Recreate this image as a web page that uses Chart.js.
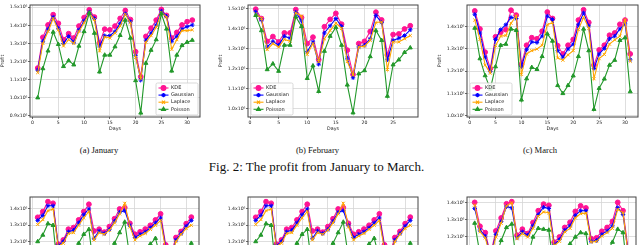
<!DOCTYPE html>
<html>
<head>
<meta charset="utf-8">
<script src="https://cdn.jsdelivr.net/npm/chart.js@4.4.1/dist/chart.umd.min.js"></script>
<style>
  html, body { margin: 0; padding: 0; background: #fff; }
  body { position: relative; width: 640px; height: 245px; overflow: hidden; }
  canvas { position: absolute; }
  .cap { position: absolute; font-family: 'Liberation Serif', 'Times New Roman', serif; color: #111;
         white-space: nowrap; transform: translate(-50%, -50%); line-height: 1; }
</style>
</head>
<body>
<canvas id="jan" width="205" height="131" style="left:0px;top:0px"></canvas>
<canvas id="feb" width="205" height="131" style="left:218px;top:0px"></canvas>
<canvas id="mar" width="206" height="131" style="left:437px;top:0px"></canvas>
<canvas id="rowA" width="204" height="140" style="left:0px;top:185px"></canvas>
<canvas id="rowB" width="205" height="140" style="left:218px;top:185px"></canvas>
<canvas id="rowC" width="204" height="140" style="left:437px;top:185px"></canvas>

<div class="cap" style="left:99px;top:150px;font-size:8.6px">(a) January</div>
<div class="cap" style="left:317.5px;top:150px;font-size:8.6px">(b) February</div>
<div class="cap" style="left:540px;top:150px;font-size:8.6px">(c) March</div>
<div class="cap" style="left:316.5px;top:166px;font-size:13px">Fig. 2: The profit from January to March.</div>

<script>
// profit values are in units of 10^6
const labels = ['KDE', 'Gaussian', 'Laplace', 'Poisson'];

const days31 = [1,2,3,4,5,6,7,8,9,10,11,12,13,14,15,16,17,18,19,20,21,22,23,24,25,26,27,28,29,30,31];
const days30 = [1,2,3,4,5,6,7,8,9,10,11,12,13,14,15,16,17,18,19,20,21,22,23,24,25,26,27,28,29,30];
const days28 = [1,2,3,4,5,6,7,8,9,10,11,12,13,14,15,16,17,18,19,20,21,22,23,24,25,26,27,28];

const janKDE = [1.164, 1.334, 1.402, 1.459, 1.411, 1.321, 1.354, 1.330, 1.396, 1.443, 1.486, 1.446, 1.304, 1.379, 1.375, 1.396,
                1.438, 1.482, 1.432, 1.254, 1.116, 1.339, 1.384, 1.429, 1.488, 1.455, 1.330, 1.361, 1.402, 1.420, 1.429];
const janGauss = [1.152, 1.312, 1.379, 1.446, 1.384, 1.300, 1.339, 1.307, 1.375, 1.425, 1.473, 1.438, 1.286, 1.343, 1.343, 1.366,
                  1.411, 1.464, 1.420, 1.232, 1.098, 1.318, 1.357, 1.402, 1.479, 1.450, 1.312, 1.339, 1.379, 1.393, 1.402];
const janLaplace = [1.139, 1.300, 1.366, 1.438, 1.375, 1.286, 1.321, 1.300, 1.366, 1.414, 1.468, 1.432, 1.259, 1.336, 1.330, 1.357,
                    1.396, 1.461, 1.414, 1.223, 1.107, 1.307, 1.343, 1.389, 1.473, 1.446, 1.268, 1.321, 1.371, 1.371, 1.375];
const janPoisson = [1.000, 1.161, 1.259, 1.363, 1.295, 1.173, 1.205, 1.182, 1.286, 1.366, 1.468, 1.357, 1.143, 1.236, 1.236, 1.282,
                    1.345, 1.429, 1.330, 1.095, 0.916, 1.191, 1.263, 1.321, 1.464, 1.380, 1.148, 1.236, 1.289, 1.307, 1.318];

const febKDE = [1.497, 1.450, 1.336, 1.360, 1.333, 1.378, 1.378, 1.495, 1.455, 1.325, 1.357, 1.244, 1.409, 1.446,
                1.476, 1.422, 1.292, 1.170, 1.325, 1.336, 1.385, 1.482, 1.443, 1.268, 1.370, 1.373, 1.398, 1.414];
const febGauss = [1.484, 1.443, 1.308, 1.336, 1.317, 1.362, 1.352, 1.482, 1.438, 1.284, 1.333, 1.222, 1.378, 1.414,
                  1.450, 1.411, 1.252, 1.154, 1.308, 1.317, 1.349, 1.466, 1.430, 1.244, 1.341, 1.352, 1.365, 1.394];
const febLaplace = [1.474, 1.451, 1.295, 1.325, 1.308, 1.346, 1.336, 1.479, 1.463, 1.271, 1.325, 1.235, 1.349, 1.390,
                    1.427, 1.401, 1.235, 1.167, 1.308, 1.312, 1.341, 1.430, 1.433, 1.195, 1.333, 1.333, 1.349, 1.365];
const febPoisson = [1.466, 1.390, 1.195, 1.224, 1.187, 1.317, 1.317, 1.459, 1.411, 1.151, 1.214, 1.086, 1.287, 1.362,
                    1.406, 1.317, 1.118, 0.979, 1.174, 1.190, 1.260, 1.390, 1.341, 1.062, 1.219, 1.244, 1.281, 1.304];

const marKDE = [1.470, 1.389, 1.285, 1.212, 1.354, 1.374, 1.386, 1.473, 1.451, 1.230, 1.316, 1.350, 1.345, 1.379, 1.465, 1.436,
                1.314, 1.277, 1.316, 1.342, 1.429, 1.475, 1.418, 1.227, 1.295, 1.316, 1.361, 1.371, 1.410, 1.429, 1.277];
const marGauss = [1.455, 1.371, 1.263, 1.198, 1.342, 1.386, 1.408, 1.441, 1.436, 1.220, 1.296, 1.331, 1.328, 1.357, 1.447, 1.432,
                  1.292, 1.263, 1.299, 1.321, 1.408, 1.461, 1.403, 1.212, 1.277, 1.302, 1.345, 1.357, 1.389, 1.412, 1.251];
const marLaplace = [1.429, 1.342, 1.227, 1.191, 1.314, 1.357, 1.360, 1.415, 1.447, 1.186, 1.277, 1.292, 1.299, 1.316, 1.408, 1.418,
                    1.259, 1.249, 1.273, 1.292, 1.386, 1.441, 1.393, 1.166, 1.256, 1.275, 1.321, 1.340, 1.357, 1.429, 1.244];
const marPoisson = [1.393, 1.256, 1.180, 1.120, 1.220, 1.316, 1.321, 1.389, 1.383, 1.071, 1.166, 1.217, 1.208, 1.266, 1.367, 1.335,
                    1.136, 1.100, 1.136, 1.179, 1.266, 1.389, 1.292, 1.029, 1.123, 1.165, 1.227, 1.249, 1.338, 1.350, 1.108];

// next figure row (only its top is visible)
const rowAKDE = [1.349, 1.384, 1.445, 1.435, 1.184, 1.210, 1.276, 1.286, 1.333, 1.384, 1.429, 1.265, 1.276, 1.258, 1.292, 1.340,
                 1.400, 1.408, 1.312, 1.245, 1.260, 1.277, 1.300, 1.333, 1.370, 1.180, 1.120, 1.225, 1.262, 1.310, 1.350];
const rowAGauss = [1.330, 1.360, 1.420, 1.420, 1.175, 1.200, 1.260, 1.270, 1.315, 1.365, 1.400, 1.220, 1.265, 1.250, 1.275, 1.325,
                   1.380, 1.390, 1.300, 1.225, 1.245, 1.260, 1.285, 1.315, 1.345, 1.165, 1.100, 1.210, 1.250, 1.295, 1.330];
const rowALaplace = [1.305, 1.335, 1.390, 1.400, 1.170, 1.190, 1.250, 1.255, 1.300, 1.345, 1.385, 1.210, 1.255, 1.245, 1.270, 1.315,
                     1.370, 1.435, 1.290, 1.210, 1.235, 1.250, 1.275, 1.300, 1.330, 1.150, 1.090, 1.200, 1.245, 1.280, 1.300];
const rowAPoisson = [1.200, 1.240, 1.310, 1.300, 1.000, 1.030, 1.080, 1.100, 1.190, 1.245, 1.275, 1.020, 1.050, 1.040, 1.100, 1.190,
                     1.255, 1.320, 1.100, 1.020, 1.050, 1.080, 1.185, 1.220, 1.100, 0.950, 0.900, 1.000, 1.080, 1.130, 1.190];

const rowCKDE = [1.400, 1.262, 1.225, 1.100, 1.235, 1.310, 1.392, 1.404, 1.210, 1.245, 1.220, 1.283, 1.352, 1.390, 1.383,
                 1.170, 1.200, 1.255, 1.285, 1.348, 1.380, 1.368, 1.190, 1.195, 1.233, 1.255, 1.290, 1.400, 1.352, 1.120];
const rowCGauss = [1.365, 1.240, 1.205, 1.090, 1.215, 1.290, 1.375, 1.368, 1.195, 1.230, 1.210, 1.265, 1.330, 1.372, 1.365,
                   1.155, 1.185, 1.240, 1.265, 1.325, 1.352, 1.352, 1.175, 1.180, 1.215, 1.235, 1.265, 1.370, 1.330, 1.100];
const rowCLaplace = [1.385, 1.230, 1.195, 1.080, 1.200, 1.280, 1.380, 1.398, 1.190, 1.220, 1.200, 1.250, 1.320, 1.345, 1.340,
                     1.150, 1.175, 1.230, 1.250, 1.310, 1.335, 1.338, 1.170, 1.175, 1.205, 1.225, 1.250, 1.360, 1.340, 1.090];
const rowCPoisson = [1.280, 1.100, 1.000, 0.920, 1.080, 1.180, 1.255, 1.275, 1.020, 1.060, 1.080, 1.200, 1.250, 1.245, 1.240,
                     1.000, 1.040, 1.100, 1.160, 1.200, 1.225, 1.220, 1.020, 1.040, 1.080, 1.120, 1.170, 1.245, 1.225, 0.950];

const xTicks31 = [0, 5, 10, 15, 20, 25, 30];
const xTicks28 = [0, 5, 10, 15, 20, 25];
const yTicksJan = [0.9, 1.0, 1.1, 1.2, 1.3, 1.4, 1.5];
const yTicksFeb = [1.0, 1.1, 1.2, 1.3, 1.4, 1.5];
const yTicksMar = [1.0, 1.1, 1.2, 1.3, 1.4];
const yTicksRow = [0.8, 0.9, 1.0, 1.1, 1.2, 1.3, 1.4];

const colors = ['#ff1493', '#0000ff', '#ffa500', '#22982a'];
const markers = ['circle', 'star', 'crossRot', 'triangle'];
const sizes = [2.4, 2.2, 2.2, 2.3];

const tickFont = { family: 'DejaVu Sans', size: 4.6, lineHeight: 1 };
const titleFont = { family: 'DejaVu Sans', size: 4.8, lineHeight: 1 };

// matplotlib-like frame and an in-axes legend
const framePlugin = {
  id: 'frame',
  afterDraw(chart, args, opts) {
    const { ctx, chartArea: a } = chart;
    ctx.save();
    ctx.strokeStyle = '#444';
    ctx.lineWidth = 1;
    ctx.strokeRect(a.left, a.top, a.right - a.left, a.bottom - a.top);
    if (opts.corner) {
      const w = 42, h = 32, rowH = 7.1;
      const x = opts.corner === 'right' ? a.right - w - 2 : a.left + 3;
      const y = a.bottom - h - 2;
      ctx.fillStyle = 'rgba(255,255,255,0.85)';
      ctx.strokeStyle = '#cfcfcf';
      ctx.lineWidth = 0.8;
      ctx.beginPath();
      ctx.roundRect(x, y, w, h, 1.5);
      ctx.fill();
      ctx.stroke();
      chart.data.datasets.forEach((ds, i) => {
        const cy = y + 5 + i * rowH;
        ctx.strokeStyle = ds.borderColor;
        ctx.lineWidth = 1.1;
        ctx.beginPath();
        ctx.moveTo(x + 2.5, cy);
        ctx.lineTo(x + 12.5, cy);
        ctx.stroke();
        ctx.fillStyle = ds.pointBackgroundColor;
        ctx.strokeStyle = ds.pointBorderColor;
        Chart.helpers.drawPoint(ctx, { pointStyle: ds.pointStyle, radius: ds.pointRadius, borderWidth: 1, rotation: 0 }, x + 7.5, cy);
        ctx.fillStyle = '#222';
        ctx.font = '5px "DejaVu Sans"';
        ctx.textBaseline = 'middle';
        ctx.textAlign = 'left';
        ctx.fillText(ds.label, x + 15, cy);
      });
    }
    ctx.restore();
  }
};

function makeChart(id, days, series, cfg) {
  const datasets = series.map((vals, i) => ({
    label: labels[i],
    data: days.map((d, j) => ({ x: d, y: vals[j] })),
    borderColor: colors[i],
    backgroundColor: colors[i],
    pointBackgroundColor: colors[i],
    pointBorderColor: colors[i],
    pointStyle: markers[i],
    pointRadius: sizes[i],
    pointBorderWidth: 1,
    borderWidth: 1.1,
    tension: 0,
    fill: false,
    order: 4 - i
  }));

  new Chart(document.getElementById(id), {
    type: 'line',
    data: { datasets },
    plugins: [framePlugin],
    options: {
      responsive: false,
      animation: false,
      devicePixelRatio: 1,
      layout: { padding: { left: 0, top: cfg.padTop, right: cfg.padRight, bottom: 0 } },
      plugins: {
        legend: { display: false },
        tooltip: { enabled: false },
        frame: { corner: cfg.legend }
      },
      scales: {
        x: {
          type: 'linear',
          min: cfg.xMin,
          max: cfg.xMax,
          afterBuildTicks: s => { s.ticks = cfg.xTicks.map(v => ({ value: v })); },
          afterFit: s => { s.height = 14; s.paddingLeft = 0; s.paddingRight = 0; },
          grid: { color: '#d6d6d6', lineWidth: 0.8, tickLength: 2, tickColor: '#444' },
          border: { display: false },
          ticks: { font: tickFont, color: '#222', padding: 1, maxRotation: 0, autoSkip: false, callback: v => String(v) },
          title: { display: true, text: 'Days', font: titleFont, color: '#222', padding: 0 }
        },
        y: {
          min: cfg.yMin,
          max: cfg.yMax,
          afterBuildTicks: s => { s.ticks = cfg.yTicks.map(v => ({ value: v })); },
          afterFit: s => { s.width = 30; s.paddingTop = 0; s.paddingBottom = 0; },
          grid: { color: '#d6d6d6', lineWidth: 0.8, tickLength: 2, tickColor: '#444' },
          border: { display: false },
          ticks: { font: tickFont, color: '#222', padding: 0.6, autoSkip: false, callback: v => v.toFixed(1) + 'x10\u2076' },
          title: { display: true, text: 'Profit', font: titleFont, color: '#222', padding: 0 }
        }
      }
    }
  });
}

makeChart('jan', days31, [janKDE, janGauss, janLaplace, janPoisson],
  { padTop: 1, padRight: 2, xMin: -0.5, xMax: 32.5, xTicks: xTicks31, yMin: 0.8935, yMax: 1.5125, yTicks: yTicksJan, legend: 'right' });
makeChart('feb', days28, [febKDE, febGauss, febLaplace, febPoisson],
  { padTop: 2, padRight: 2.5, xMin: -0.35, xMax: 29.35, xTicks: xTicks28, yMin: 0.9577, yMax: 1.5179, yTicks: yTicksFeb, legend: 'left' });
makeChart('mar', days31, [marKDE, marGauss, marLaplace, marPoisson],
  { padTop: 1, padRight: 2, xMin: -0.5, xMax: 32.5, xTicks: xTicks31, yMin: 0.9944, yMax: 1.4965, yTicks: yTicksMar, legend: 'left' });
makeChart('rowA', days31, [rowAKDE, rowAGauss, rowALaplace, rowAPoisson],
  { padTop: 12, padRight: 2, xMin: -0.5, xMax: 32.5, xTicks: xTicks31, yMin: 0.774, yMax: 1.4736, yTicks: yTicksRow, legend: null });
makeChart('rowB', days31, [rowAKDE, rowAGauss, rowALaplace, rowAPoisson],
  { padTop: 12, padRight: 2.5, xMin: -0.5, xMax: 32.5, xTicks: xTicks31, yMin: 0.774, yMax: 1.4736, yTicks: yTicksRow, legend: null });
makeChart('rowC', days30, [rowCKDE, rowCGauss, rowCLaplace, rowCPoisson],
  { padTop: 12, padRight: 2, xMin: -0.45, xMax: 31.45, xTicks: xTicks31, yMin: 0.772, yMax: 1.4312, yTicks: yTicksRow, legend: null });
</script>
</body>
</html>
